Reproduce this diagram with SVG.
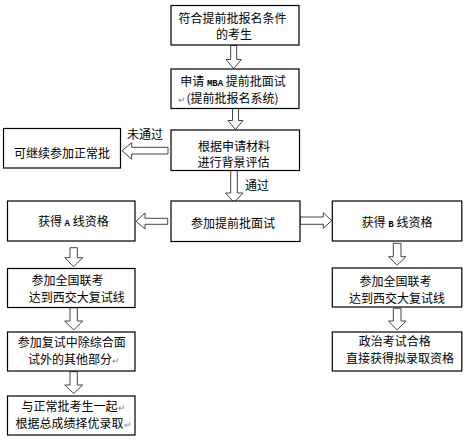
<svg xmlns="http://www.w3.org/2000/svg" width="466" height="442" viewBox="0 0 466 442">
<style>
.box{fill:#fff;stroke:#000;stroke-width:1.2}
.arr{fill:#fff;stroke:#444;stroke-width:1}
text{font-family:"Noto Sans CJK SC","Noto Sans",sans-serif;font-size:12px;fill:#000;text-anchor:middle}
.lat{font-family:"Liberation Mono",monospace;font-size:9px;font-weight:bold}
.pm{fill:#888;font-size:9px}
</style>
<rect width="466" height="442" fill="#fff"/>
<g id="connectors">
<path class="arr" d="M230.7,45.5 H236.7 V59.5 H241.3 L233.7,68.5 L226,59.5 H230.7 Z"/>
<path class="arr" d="M232.5,108.5 H238.5 V120.5 H243 L235.5,129.5 L228,120.5 H232.5 Z"/>
<path class="arr" d="M230.7,170.5 H237.3 V193 H243 L234,202.5 L225.5,193 H230.7 Z"/>
<path class="arr" d="M168,147.3 V154 H131.7 V159.3 L122,150.7 L131.7,142.7 V147.3 Z"/>
<path class="arr" d="M167.7,218.3 V224.3 H145 V229 L136,221.3 L145,213 V218.3 Z"/>
<path class="arr" d="M300,217 V224.3 H323.3 V228.3 L331.7,220.6 L323.3,212.7 V217 Z"/>
<path class="arr" d="M70,247.7 H77.3 V257.7 H82.7 L73.7,266.7 L64.7,257.7 H70 Z"/>
<path class="arr" d="M70,307.7 H77.3 V321 H82.7 L73.7,330 L64.7,321 H70 Z"/>
<path class="arr" d="M70,371.7 H77.3 V385 H82.7 L73.7,393.5 L64.7,385 H70 Z"/>
<path class="arr" d="M393.3,243.3 H401 V256.7 H406 L397.2,265 L388.5,256.7 H393.3 Z"/>
<path class="arr" d="M393.3,308.3 H401 V321 H406 L397.2,330 L388.5,321 H393.3 Z"/>
<text x="145" y="139">未通过</text>
<text x="257" y="190">通过</text>
</g>
<g id="n1">
<rect class="box" x="171" y="5.5" width="128" height="39.5"/>
<text x="232.5" y="23">符合提前批报名条件</text>
<text x="234" y="39">的考生</text>
</g>
<g id="n2">
<rect class="box" x="171" y="69" width="128" height="39.5"/>
<text x="233" y="85.5">申请 <tspan class="lat">MBA</tspan> 提前批面试</text>
<text x="228.5" y="102.5"><tspan class="pm">↵</tspan>(提前批报名系统)</text>
</g>
<g id="n3">
<rect class="box" x="171" y="130" width="128.5" height="40.5"/>
<text x="234" y="150.5">根据申请材料</text>
<text x="233.5" y="167">进行背景评估</text>
</g>
<g id="n4">
<rect class="box" x="3.5" y="128.5" width="117" height="39.5"/>
<text x="62" y="157.5">可继续参加正常批</text>
</g>
<g id="n5">
<rect class="box" x="171" y="201" width="129" height="40.5"/>
<text x="233" y="227.5">参加提前批面试</text>
</g>
<g id="n6">
<rect class="box" x="7.5" y="201" width="127.5" height="40"/>
<text x="73.3" y="225.5">获得 <tspan class="lat" font-weight="normal">A</tspan> 线资格</text>
</g>
<g id="n7">
<rect class="box" x="332.3" y="201" width="129.5" height="40"/>
<text x="397" y="226.5">获得 <tspan class="lat" font-weight="normal">B</tspan> 线资格</text>
</g>
<g id="n8">
<rect class="box" x="7.5" y="268.5" width="127.5" height="39"/>
<text x="67.5" y="284.5">参加全国联考</text>
<text x="76.7" y="301.5">达到西交大复试线</text>
</g>
<g id="n9">
<rect class="box" x="7.5" y="332" width="127.5" height="39"/>
<text x="71.7" y="347">参加复试中除综合面</text>
<text x="74" y="364">试外的其他部分<tspan class="pm">↵</tspan></text>
</g>
<g id="n10">
<rect class="box" x="7.5" y="396" width="127.5" height="39"/>
<text x="73.5" y="410.5" font-size="12.8">与正常批考生一起<tspan class="pm">↵</tspan></text>
<text x="73.5" y="428" font-size="12.8">根据总成绩择优录取<tspan class="pm">↵</tspan></text>
</g>
<g id="n11">
<rect class="box" x="332.3" y="268" width="129.5" height="39"/>
<text x="395.5" y="286">参加全国联考</text>
<text x="397" y="303">达到西交大复试线</text>
</g>
<g id="n12">
<rect class="box" x="332.3" y="332" width="129.5" height="39"/>
<text x="394.7" y="345.5">政治考试合格</text>
<text x="400" y="363">直接获得拟录取资格</text>
</g>
</svg>
